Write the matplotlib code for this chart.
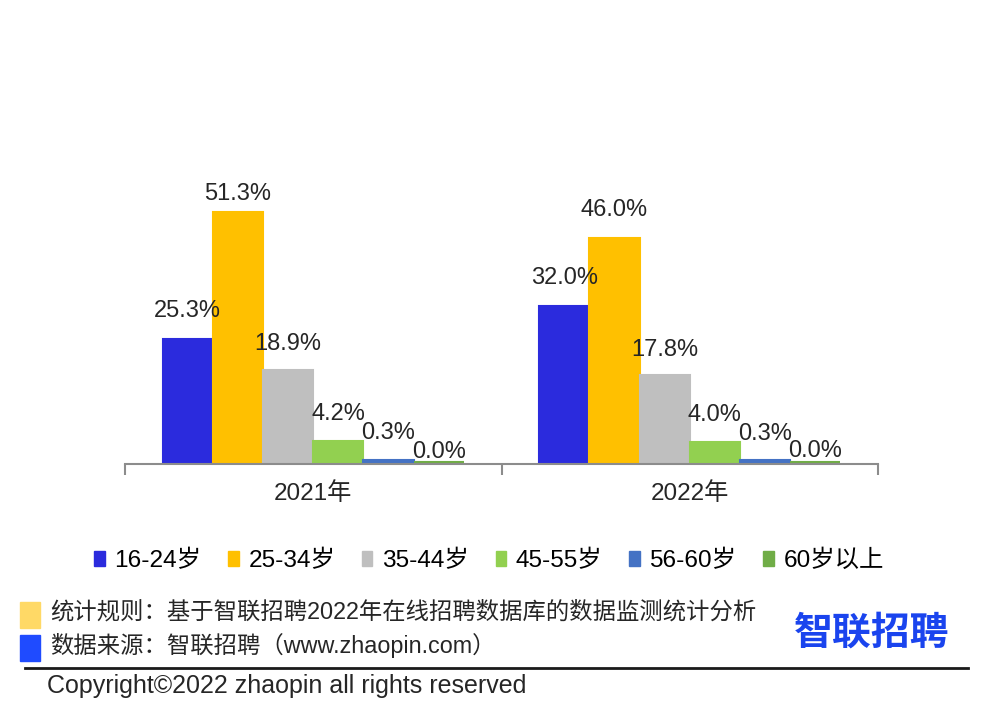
import matplotlib.pyplot as plt
import matplotlib.patches as mpatches
import numpy as np

plt.rcParams['font.family'] = ['Liberation Sans', 'Noto Sans CJK SC', 'DejaVu Sans']

years = ["2021年", "2022年"]
age_groups = ["16-24岁", "25-34岁", "35-44岁", "45-55岁", "56-60岁", "60岁以上"]
values_2021 = [25.3, 51.3, 18.9, 4.2, 0.3, 0.0]
values_2022 = [32.0, 46.0, 17.8, 4.0, 0.3, 0.0]
colors = ["#2B2BDD", "#FFC000", "#BFBFBF", "#92D050", "#4472C4", "#70AD47"]

# gap between bar top and label (points), per year / per series
label_gap_2021 = [12, 5, 11, 12, 12, -1]
label_gap_2022 = [12, 12, 10, 12, 11, 0]

fig = plt.figure(figsize=(9.85, 7.2), dpi=100)
ax = fig.add_axes([125 / 985, 1 - 463.5 / 720, (878 - 125) / 985, 293.7 / 720])

data = np.array([values_2021, values_2022])
gaps = np.array([label_gap_2021, label_gap_2022])
n = len(age_groups)
width = 0.8 / n
x = np.arange(len(years))

for i, label in enumerate(age_groups):
    pos = x - 0.4 + width * (i + 0.5)
    bars = ax.bar(pos, data[:, i], width, color=colors[i], edgecolor=colors[i],
                  linewidth=1.5, label=label)
    for b, v, g in zip(bars, data[:, i], gaps[:, i]):
        ax.annotate(f"{v:.1f}%", (b.get_x() + b.get_width() / 2, v),
                    xytext=(0, g), textcoords="offset points",
                    ha="center", va="bottom", fontsize=17, color="#262626")

ax.set_xlim(-0.5, 1.5)
ax.set_ylim(-0.35, 60)
for s in ["top", "right", "left"]:
    ax.spines[s].set_visible(False)
ax.spines["bottom"].set_color("#8C8C8C")
ax.spines["bottom"].set_linewidth(1.5)
ax.set_yticks([])
ax.set_xticks([-0.5, 0.5, 1.5])
ax.set_xticklabels([])
ax.tick_params(axis="x", length=8, color="#8C8C8C", width=1.5)
for xi, yr in zip(x, years):
    ax.annotate(yr, (xi, 0), xytext=(0, -23), textcoords="offset points",
                ha="center", va="center", fontsize=17.5, color="#262626")

handles = [mpatches.Patch(color=c, label=l) for c, l in zip(colors, age_groups)]
fig.legend(handles=handles, loc="center", bbox_to_anchor=(489 / 985, 1 - 561 / 720),
           ncol=6, frameon=False, fontsize=17.6, handlelength=0.42, handleheight=0.56,
           handletextpad=0.4, columnspacing=1.1)

# footer
fig.patches.append(mpatches.Rectangle((20 / 985, 1 - 628 / 720), 20 / 985, 26 / 720,
                                      transform=fig.transFigure, color="#FFD966"))
fig.patches.append(mpatches.Rectangle((20 / 985, 1 - 661 / 720), 20 / 985, 26 / 720,
                                      transform=fig.transFigure, color="#1F4BFF"))
fig.text(50 / 985, 1 - 612 / 720, "统计规则：基于智联招聘2022年在线招聘数据库的数据监测统计分析",
         fontsize=16.8, va="center", color="#262626")
fig.text(50 / 985, 1 - 645 / 720, "数据来源：智联招聘（www.zhaopin.com）",
         fontsize=16.8, va="center", color="#262626")
fig.text(872 / 985, 1 - 633 / 720, "智联招聘", fontsize=28, fontweight="bold",
         ha="center", va="center", color="#1A44EE", family="Noto Sans CJK SC")
fig.add_artist(plt.Line2D([25 / 985, 968 / 985], [1 - 668 / 720] * 2,
                          transform=fig.transFigure, color="#1A1A1A", linewidth=2))
fig.text(47 / 985, 1 - 686 / 720, "Copyright©2022 zhaopin all rights reserved",
         fontsize=18, va="center", color="#262626")

fig.savefig("out.png", dpi=100, facecolor="white")
